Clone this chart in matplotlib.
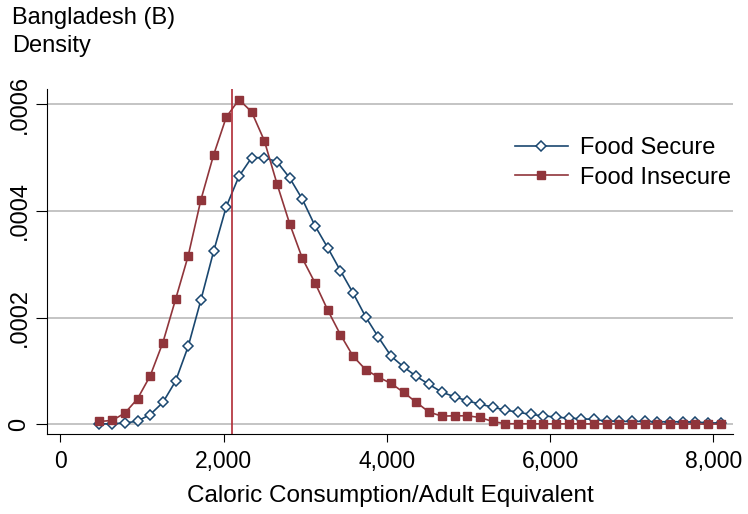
import numpy as np
import matplotlib
matplotlib.use("Agg")
from matplotlib import pyplot as plt
from matplotlib.ticker import FuncFormatter

plt.rcParams['font.family'] = ['Liberation Sans', 'DejaVu Sans']

# kernel density evaluated at 50 points (calories per adult equivalent)
n_points = 50
x_min, x_max = 481, 8090
calories = np.linspace(x_min, x_max, n_points)

food_secure = [
    0.0, 0.000001, 0.000002, 0.0000056, 0.000018, 0.0000406, 0.0000806, 0.000146,
    0.000233, 0.000324, 0.000408, 0.000465, 0.0005, 0.0005, 0.0004925, 0.000462,
    0.000422, 0.000372, 0.000331, 0.000288, 0.000246, 0.000201, 0.000163, 0.0001275,
    0.000107, 0.0000894, 0.0000744, 0.00006, 0.0000513, 0.0000438, 0.0000375, 0.0000319,
    0.0000263, 0.0000225, 0.0000181, 0.0000156, 0.0000131, 0.0000113, 0.00001, 0.0000088,
    0.0000056, 0.000005, 0.000005, 0.000005, 0.0000044, 0.0000044, 0.0000044, 0.0000038,
    0.0000025, 0.0000019,
]
food_insecure = [
    0.000005, 0.0000069, 0.0000206, 0.0000475, 0.0000906, 0.000153, 0.000234, 0.000316,
    0.000421, 0.000505, 0.000576, 0.000609, 0.000586, 0.000532, 0.000451, 0.000376,
    0.000311, 0.000265, 0.000214, 0.000168, 0.0001275, 0.000102, 0.0000881, 0.0000763,
    0.0000594, 0.0000406, 0.0000225, 0.000015, 0.0000156, 0.0000156, 0.0000125, 0.000005,
    0.0000008, 0.0000006, 0.0000006, 0.0000005, 0.0000005, 0.0000005, 0.0000004, 0.0000004,
    0.0000004, 0.0000003, 0.0000003, 0.0000003, 0.0000002, 0.0000002, 0.0000002, 0.0000002,
    0.0000001, 0.0000001,
]
threshold = 2100

x_ticks = [0, 2000, 4000, 6000, 8000]
y_ticks = [0, 0.0002, 0.0004, 0.0006]

blue = '#1a476f'
red = '#90353b'

fig = plt.figure(figsize=(7.48, 5.14), dpi=100)
ax = fig.add_axes([0.063, 0.156, 0.917, 0.671])

for y in y_ticks:
    ax.axhline(y, color='#b4b4b4', lw=1.1, zorder=0)

ax.plot(calories, food_secure, color=blue, lw=1.2, marker='D', ms=5.5,
        mfc='white', mec=blue, mew=1.1, label='Food Secure')
ax.plot(calories, food_insecure, color=red, lw=1.2, marker='s', ms=6,
        mfc=red, mec=red, label='Food Insecure')
ax.axvline(threshold, color='#b02a35', lw=1.2)

ax.set_xlim(-160, 8240)
ax.set_ylim(-0.0000182, 0.000629)
ax.set_xticks(x_ticks)
ax.set_yticks(y_ticks)
ax.xaxis.set_major_formatter(FuncFormatter(lambda v, p: '{:,}'.format(int(v))))
ax.yaxis.set_major_formatter(FuncFormatter(lambda v, p: '0' if v == 0 else ('%.4f' % v).lstrip('0')))
ax.tick_params(axis='x', labelsize=16.5, length=6, direction='out', pad=6)
ax.tick_params(axis='y', labelsize=17, length=8, direction='out', pad=4)
for lab in ax.get_yticklabels():
    lab.set_rotation(90)
    lab.set_va('center')

ax.spines['top'].set_visible(False)
ax.spines['right'].set_visible(False)

ax.set_xlabel('Caloric Consumption/Adult Equivalent', fontsize=17.5, labelpad=8)

fig.text(0.016, 0.965, 'Bangladesh (B)', fontsize=17, va='center')
fig.text(0.016, 0.91, 'Density', fontsize=17, va='center')

ax.legend(loc='center left', bbox_to_anchor=(0.688, 0.683), bbox_transform=fig.transFigure,
          frameon=False, fontsize=17, handlelength=2.25, handletextpad=0.5,
          labelspacing=0.32, borderpad=0, borderaxespad=0)

fig.savefig('out.png', dpi=100)
